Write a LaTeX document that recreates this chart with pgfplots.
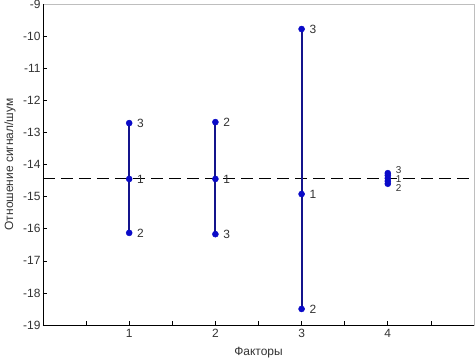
\documentclass[border=0pt]{standalone}
\usepackage{fontspec}
\setmainfont{Liberation Sans}
\usepackage{pgfplots}
\pgfplotsset{compat=1.18}
\definecolor{navyline}{RGB}{20,20,140}
\definecolor{markblue}{RGB}{10,10,200}
\definecolor{boxgray}{RGB}{190,190,190}
\definecolor{labgray}{RGB}{50,50,50}
\begin{document}
\begin{tikzpicture}
\useasboundingbox (-43bp,-35bp) rectangle (433bp,325bp);
\begin{axis}[
  scale only axis, width=431bp, height=321bp,
  xmin=0, xmax=5, ymin=-19, ymax=-9,
  xtick={0.5,1,1.5,2,2.5,3,3.5,4,4.5},
  xticklabels={,1,,2,,3,,4,},
  ytick={-19,-18,...,-9},
  tick pos=left,
  tick align=inside,
  major tick length=4bp,
  tick style={black, line width=0.6pt},
  axis line style={boxgray, line width=0.8pt},
  /pgf/number format/assume math mode=true,
  ticklabel style={font=\fontsize{12}{14}\selectfont, text=labgray},
  yticklabel style={xshift=1bp},
  xticklabel style={yshift=-0.5bp},
  xlabel={Факторы},
  ylabel={Отношение сигнал/шум},
  label style={font=\fontsize{12}{14}\selectfont, text=labgray},
  xlabel style={at={(axis description cs:0.5,-0.0872)}, anchor=center},
  ylabel style={at={(axis description cs:-0.0766,0.5)}, anchor=center, rotate=0},
  clip=false,
]
\draw[black, line width=0.8pt] (rel axis cs:0,0) -- (rel axis cs:0,1);
\draw[black, line width=0.8pt] (rel axis cs:0,0) -- (rel axis cs:1,0);
\addplot[black, line width=0.7pt, dash pattern=on 12bp off 6bp, forget plot] coordinates {(0,-14.43) (5,-14.43)};
\addplot[navyline, line width=2pt, mark=*, mark size=3bp, mark options={fill=markblue, draw=markblue, line width=0.5pt}] coordinates {(1,-12.71) (1,-14.45) (1,-16.13)};
\addplot[navyline, line width=2pt, mark=*, mark size=3bp, mark options={fill=markblue, draw=markblue, line width=0.5pt}] coordinates {(2,-12.68) (2,-14.45) (2,-16.17)};
\addplot[navyline, line width=2pt, mark=*, mark size=3bp, mark options={fill=markblue, draw=markblue, line width=0.5pt}] coordinates {(3,-9.78) (3,-14.92) (3,-18.50)};
\addplot[navyline, line width=2pt, mark=*, mark size=3bp, mark options={fill=markblue, draw=markblue, line width=0.5pt}] coordinates {(4,-14.27) (4,-14.34) (4,-14.43) (4,-14.52) (4,-14.60)};
\begin{scope}[every node/.style={font=\fontsize{12}{14}\selectfont, text=labgray, anchor=west, inner sep=0pt}]
\node at (axis cs:1.09,-12.71) {3};
\node at (axis cs:1.09,-14.45) {1};
\node at (axis cs:1.09,-16.13) {2};
\node at (axis cs:2.09,-12.68) {2};
\node at (axis cs:2.09,-14.45) {1};
\node at (axis cs:2.09,-16.17) {3};
\node at (axis cs:3.09,-9.78) {3};
\node at (axis cs:3.09,-14.92) {1};
\node at (axis cs:3.09,-18.50) {2};
\end{scope}
\begin{scope}[every node/.style={font=\fontsize{10}{11}\selectfont, text=labgray, anchor=west, inner sep=0pt}]
\node at (axis cs:4.09,-14.16) {3};
\node at (axis cs:4.09,-14.44) {1};
\node at (axis cs:4.09,-14.72) {2};
\end{scope}
\end{axis}
\end{tikzpicture}
\end{document}
